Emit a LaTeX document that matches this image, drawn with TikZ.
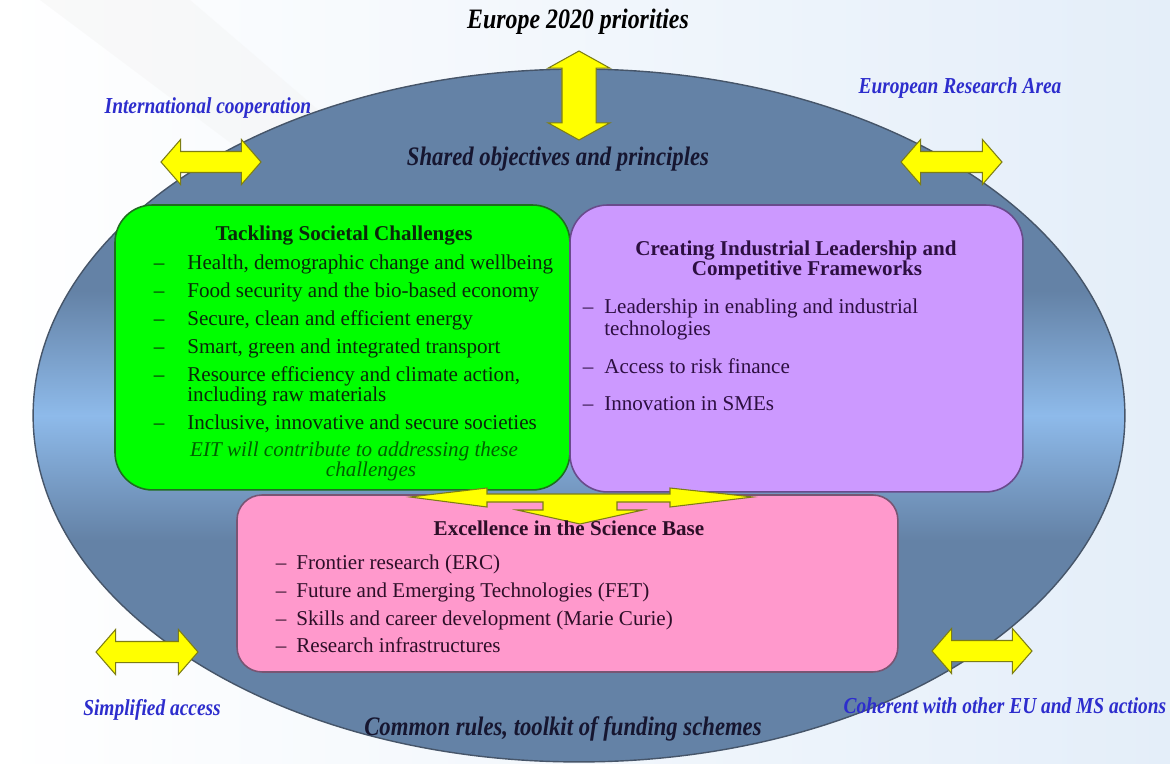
\documentclass[tikz,border=0pt]{standalone}
\usepackage{fontspec}
\setmainfont{Liberation Serif}
\newfontfamily\labelfont[FakeStretch=0.85]{Liberation Serif}
\usepackage{tikz}
\usetikzlibrary{shapes.geometric,shapes.arrows}

\definecolor{steel}{RGB}{100,130,166}
\definecolor{steellight}{RGB}{142,186,234}
\definecolor{steelline}{RGB}{70,85,105}
\definecolor{labelblue}{RGB}{45,45,205}
\definecolor{darknavy}{RGB}{22,22,48}
\definecolor{boxgreen}{RGB}{0,255,0}
\definecolor{greenline}{RGB}{30,110,30}
\definecolor{greentext}{RGB}{10,40,10}
\definecolor{eitgreen}{RGB}{0,95,0}
\definecolor{boxpurple}{RGB}{204,153,255}
\definecolor{purpleline}{RGB}{105,75,140}
\definecolor{purpletext}{RGB}{45,15,65}
\definecolor{boxpink}{RGB}{255,153,204}
\definecolor{pinkline}{RGB}{120,85,115}
\definecolor{pinktext}{RGB}{45,15,40}
\definecolor{arrowyellow}{RGB}{255,255,0}
\definecolor{arrowline}{RGB}{125,125,20}
\definecolor{backblue}{RGB}{228,238,249}

\pgfdeclareverticalshading{ringshade}{100bp}{color(0bp)=(steel); color(41bp)=(steel); color(50bp)=(steellight); color(59bp)=(steel); color(100bp)=(steel)}

\begin{document}
\begin{tikzpicture}[x=0.02cm, y=-0.02cm,
    frame/.style={ellipse, draw=steelline, line width=0.8pt, shade, shading=ringshade, inner sep=0pt},
    shelf/.style={draw, rounded corners=0.75cm, inner sep=0pt, outer sep=0pt, anchor=north west, line width=0.9pt},
    dbl/.style={double arrow, draw=arrowline, fill=arrowyellow, line width=0.6pt, inner xsep=0pt, double arrow head indent=0pt},
    head/.style={anchor=base, inner sep=0pt, font=\fontsize{12}{14}\selectfont\bfseries},
    item/.style={anchor=base west, inner sep=0pt, font=\fontsize{12}{14}\selectfont},
    outer/.style={anchor=base, inner sep=0pt, font=\labelfont\fontsize{13}{15}\selectfont\bfseries\itshape, text=labelblue},
    motto/.style={anchor=base, inner sep=0pt, font=\labelfont\fontsize{15.2}{17}\selectfont\bfseries\itshape, text=darknavy}
  ]
  \useasboundingbox (0,0) rectangle (1170,764);
  \shade[left color=white, right color=backblue] (0,0) rectangle (1170,764);
  \fill[black!5, opacity=0.4] (40,0) -- (190,0) -- (470,240) -- (360,240) -- cycle;

  \node[frame, minimum width=21.84cm, minimum height=13.86cm] (ring) at (579,415.5) {};

  \node[shelf, fill=boxgreen, draw=greenline, minimum width=9.1cm, minimum height=5.7cm] (societal) at (115,205) {};
  \node[shelf, fill=boxpurple, draw=purpleline, minimum width=9.06cm, minimum height=5.74cm] (industry) at (570,205) {};
  \node[shelf, fill=boxpink, draw=pinkline, rounded corners=0.5cm, minimum width=13.22cm, minimum height=3.54cm] (science) at (237,495) {};

  \filldraw[draw=arrowline, fill=arrowyellow, line width=0.6pt] (410,497) -- (487,488) -- (487,494) -- (670,494) -- (670,488) -- (753,497) -- (670,507) -- (670,502) -- (617,502) -- (617,510) -- (643,510) -- (580,524) -- (517,510) -- (543,510) -- (543,502) -- (487,502) -- (487,507) -- cycle;

  \node[dbl, rotate=90, minimum height=1.78cm, inner ysep=0.33cm, double arrow head extend=0.28cm, double arrow tip angle=122] (priority) at (579,95.5) {};
  \node[dbl, minimum height=2cm, inner ysep=0.2cm, double arrow head extend=0.24cm, double arrow tip angle=98] (coop) at (211,162) {};
  \node[dbl, minimum height=2.02cm, inner ysep=0.2cm, double arrow head extend=0.24cm, double arrow tip angle=98] (era) at (951.5,162) {};
  \node[dbl, minimum height=2.04cm, inner ysep=0.2cm, double arrow head extend=0.24cm, double arrow tip angle=98] (access) at (147,652) {};
  \node[dbl, minimum height=2cm, inner ysep=0.2cm, double arrow head extend=0.24cm, double arrow tip angle=98] (coherent) at (982,651) {};

  \node[motto, text=black, font=\labelfont\fontsize{16}{18}\selectfont\bfseries\itshape] (europe) at (578,29) {Europe 2020 priorities};
  \node[outer] (intl) at (208,113) {International cooperation};
  \node[outer] (erea) at (960,93) {European Research Area};
  \node[motto] (shared) at (558,165) {Shared objectives and principles};
  \node[outer] (simple) at (152,715) {Simplified access};
  \node[outer] (cohere) at (1005,713) {Coherent with other EU and MS actions};
  \node[motto] (rules) at (563,735) {Common rules, toolkit of funding schemes};

  \node[head, text=greentext] (sochead) at (344,240) {Tackling Societal Challenges};
  \foreach \y/\mk/\t [count=\i] in {269/--/{Health, demographic change and wellbeing},
      297/--/{Food security and the bio-based economy},
      325/--/{Secure, clean and efficient energy},
      353/--/{Smart, green and integrated transport},
      381/--/{Resource efficiency and climate action,},
      401//{including raw materials},
      429/--/{Inclusive, innovative and secure societies}}
    \node[item, text=greentext] (soc\i) at (187,\y) {\llap{\mk\hspace{0.46cm}}\t};
  \node[item, anchor=base, text=eitgreen, font=\fontsize{12}{14}\selectfont\itshape] (eit1) at (354,456) {EIT will contribute to addressing these};
  \node[item, anchor=base, text=eitgreen, font=\fontsize{12}{14}\selectfont\itshape] (eit2) at (371,476) {challenges};

  \node[head, text=purpletext] (indhead1) at (796,255) {Creating Industrial Leadership and};
  \node[head, text=purpletext] (indhead2) at (807,275) {Competitive Frameworks};
  \foreach \y/\mk/\t [count=\i] in {313/--/{Leadership in enabling and industrial},
      335//{technologies},
      373/--/{Access to risk finance},
      410/--/{Innovation in SMEs}}
    \node[item, text=purpletext] (lead\i) at (604,\y) {\llap{\mk\hspace{0.22cm}}\t};

  \node[head, text=pinktext] (scihead) at (569,535) {Excellence in the Science Base};
  \foreach \y/\t [count=\i] in {569/{Frontier research (ERC)},
      597/{Future and Emerging Technologies (FET)},
      625/{Skills and career development (Marie Curie)},
      652/{Research infrastructures}}
    \node[item, text=pinktext] (sci\i) at (296,\y) {\llap{--\hspace{0.2cm}}\t};
\end{tikzpicture}
\end{document}
